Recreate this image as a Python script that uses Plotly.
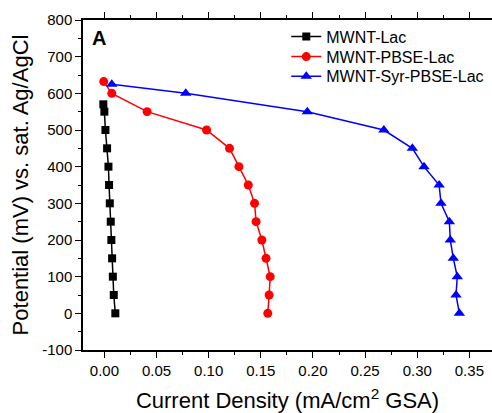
import plotly.graph_objects as go

potential_lac = [570, 550, 500, 450, 400, 350, 300, 250, 200, 150, 100, 50, 0]
current_lac = [-0.001, 0.000, 0.001, 0.0026, 0.0039, 0.0045, 0.0052, 0.0061, 0.0067, 0.0074, 0.0081, 0.0090, 0.0105]

potential_pbse = [632, 600, 550, 500, 450, 400, 350, 300, 250, 200, 150, 100, 50, 0]
current_pbse = [-0.0006, 0.0071, 0.041, 0.098, 0.120, 0.129, 0.138, 0.144, 0.1455, 0.151, 0.155, 0.159, 0.158, 0.1567]

potential_syr = [625, 600, 550, 500, 450, 400, 350, 300, 250, 200, 150, 100, 50, 0]
current_syr = [0.0071, 0.078, 0.1946, 0.268, 0.2953, 0.3065, 0.321, 0.3228, 0.3308, 0.3317, 0.3346, 0.3384, 0.3372, 0.3404]

series_names = ["MWNT-Lac", "MWNT-PBSE-Lac", "MWNT-Syr-PBSE-Lac"]
x_ticks = [0.00, 0.05, 0.10, 0.15, 0.20, 0.25, 0.30, 0.35]
y_ticks = [-100, 0, 100, 200, 300, 400, 500, 600, 700, 800]

FONT = "Liberation Sans, Arial, sans-serif"

# plot area geometry (px): left 83, top 20, bottom 350
PL, PT, PB, PW = 83, 20, 350, 409

def py(ypx):
    return (PB - ypx) / (PB - PT)

fig = go.Figure()
fig.add_trace(go.Scatter(x=current_lac, y=potential_lac, name=series_names[0], mode="lines+markers",
                         line=dict(color="black", width=1.5),
                         marker=dict(symbol="square", size=8, color="black"), legend="legend"))
fig.add_trace(go.Scatter(x=current_pbse, y=potential_pbse, name=series_names[1], mode="lines+markers",
                         line=dict(color="#ff0000", width=1.5),
                         marker=dict(symbol="circle", size=9, color="#ff0000"), legend="legend2"))
fig.add_trace(go.Scatter(x=current_syr, y=potential_syr, name=series_names[2], mode="lines+markers",
                         line=dict(color="#0000ff", width=1.5),
                         marker=dict(symbol="triangle-up", size=10, color="#0000ff"), legend="legend3"))

def leg(ypx):
    return dict(x=0.497, y=py(ypx), xanchor="left", yanchor="middle",
                font=dict(size=16, family=FONT, color="black"), bgcolor="rgba(0,0,0,0)",
                itemwidth=30)

fig.update_layout(
    width=492, height=413,
    margin=dict(l=PL, r=0, t=PT, b=413 - PB, autoexpand=False),
    paper_bgcolor="white", plot_bgcolor="white",
    font=dict(family=FONT, color="black", size=15),
    showlegend=True,
    legend=leg(36.7), legend2=leg(56.7), legend3=leg(76.3),
    annotations=[dict(text="<b>A</b>", x=0.016, y=0.985, xref="paper", yref="paper",
                      xanchor="left", yanchor="top", showarrow=False,
                      font=dict(size=20, family=FONT, color="black"))],
)
fig.update_xaxes(
    range=[-0.0205, 0.3717], tickvals=x_ticks, ticktext=[f"{v:.2f}" for v in x_ticks],
    showgrid=False, zeroline=False, showline=True, linecolor="black", linewidth=1.5,
    ticks="outside", ticklen=6, tickwidth=1, tickcolor="black", mirror="allticks",
    minor=dict(tickvals=[0.025, 0.075, 0.125, 0.175, 0.225, 0.275, 0.325], ticks="outside", ticklen=3, tickcolor="black"),
    tickfont=dict(size=15), automargin=False,
    title=dict(text="Current Density (mA/cm<sup>2</sup> GSA)", font=dict(size=22), standoff=16),
)
fig.update_yaxes(
    range=[-100, 800], tickvals=y_ticks, ticktext=[str(v) for v in y_ticks],
    showgrid=False, zeroline=False, showline=True, linecolor="black", linewidth=1.5,
    ticks="outside", ticklen=6, tickwidth=1, tickcolor="black",
    minor=dict(tickvals=[-50, 50, 150, 250, 350, 450, 550, 650, 750], ticks="outside", ticklen=3, tickcolor="black"),
    tickfont=dict(size=15), automargin=False,
    title=dict(text="Potential (mV) vs. sat. Ag/AgCl", font=dict(size=22), standoff=8),
)

fig.write_html("out.html", config={"displayModeBar": False},
               post_script="document.body.style.margin='0';document.body.style.overflow='hidden';")
